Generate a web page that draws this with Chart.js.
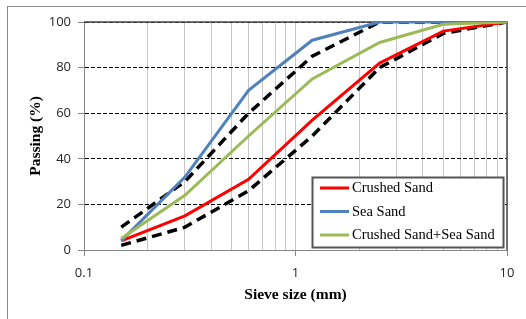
<!DOCTYPE html>
<html><head><meta charset="utf-8">
<script src="https://cdn.jsdelivr.net/npm/chart.js@4/dist/chart.umd.min.js"></script>
<style>
html,body{margin:0;padding:0;background:#fff;}
#wrap{position:relative;width:526px;height:319px;overflow:hidden;}
#frame{position:absolute;left:7px;top:6px;width:700px;height:500px;border-left:1px solid #8c8c8c;border-top:1px solid #8c8c8c;}
canvas{position:absolute;left:0;top:0;}
</style></head><body>
<div id="wrap"><div id="frame"></div><canvas id="c" width="526" height="319"></canvas></div>
<script>
const sieveSizes = [0.15, 0.3, 0.6, 1.2, 2.5, 5, 10];
const crushedSand = [4, 15, 31, 57, 82, 96, 100];
const seaSand = [4, 32, 70, 92, 100, 100, 100];
const blendSand = [5, 24, 50, 75, 91, 99, 100];
const upperLimit = [10, 30, 60, 85, 100, 100, 100];
const lowerLimit = [2, 10, 26, 50, 80, 95, 100];
const yTickValues = [0, 20, 40, 60, 80, 100];
const xMajorTicks = [0.1, 1, 10];
const seriesNames = ['Crushed Sand', 'Sea Sand', 'Crushed Sand+Sea Sand'];
const seriesColors = ['#ff0000', '#4f81bd', '#9bbb59'];

function pts(vals){ return sieveSizes.map((s,i)=>({x:s, y:vals[i]})); }
function isMajor(v){ return xMajorTicks.some(m=>Math.abs(m-v)<1e-9); }

const seriesValues = [crushedSand, seaSand, blendSand];
const drawOrder = [2, 1, 0];
const datasets = seriesValues.map((vals,i)=>({
  label: seriesNames[i], data: pts(vals), borderColor: seriesColors[i],
  borderWidth: 3, pointRadius: 0, tension: 0, order: drawOrder[i], inLegend: true
}));
[upperLimit, lowerLimit].forEach((vals,i)=>datasets.push({
  label: i===0 ? 'Upper limit' : 'Lower limit', data: pts(vals), borderColor: '#000',
  borderWidth: 3.5, borderDash: [10, 6], pointRadius: 0, tension: 0, order: 5, inLegend: false
}));

const framePlugin = {
  id: 'frame',
  beforeDatasetsDraw(chart){
    const {ctx, chartArea:a} = chart;
    ctx.save();
    ctx.strokeStyle = '#4a4a4a'; ctx.lineWidth = 1.5;
    ctx.beginPath();
    ctx.moveTo(a.left, a.top); ctx.lineTo(a.right, a.top); ctx.lineTo(a.right, a.bottom);
    ctx.stroke();
    ctx.restore();
  }
};
const legendPlugin = {
  id: 'boxLegend',
  afterDraw(chart){
    const ctx = chart.ctx;
    const bx = 312.5, by = 177.5, bw = 191, bh = 70;
    ctx.save();
    ctx.fillStyle = '#fff'; ctx.fillRect(bx, by, bw, bh);
    ctx.strokeStyle = '#555'; ctx.lineWidth = 2; ctx.strokeRect(bx, by, bw, bh);
    ctx.font = "14.5px 'Liberation Serif', serif";
    ctx.textBaseline = 'middle'; ctx.fillStyle = '#000';
    chart.data.datasets.filter(d=>d.inLegend).forEach((d,i)=>{
      const y = 188 + i*23.5;
      ctx.strokeStyle = d.borderColor; ctx.lineWidth = 3;
      ctx.beginPath(); ctx.moveTo(320, y); ctx.lineTo(349, y); ctx.stroke();
      ctx.fillText(d.label, 352, y + 0.5);
    });
    ctx.restore();
  }
};

new Chart(document.getElementById('c'), {
  type: 'line',
  data: { datasets },
  plugins: [framePlugin, legendPlugin],
  options: {
    responsive: false, devicePixelRatio: 1, animation: false,
    layout: { padding: { top: 22, right: 19, left: 0, bottom: 0 } },
    plugins: { legend: { display: false }, tooltip: { enabled: false } },
    scales: {
      x: {
        type: 'logarithmic', min: 0.1, max: 10,
        afterBuildTicks(scale){
          const t = [];
          for (const d of [0.1, 1]) for (let k=1;k<10;k++) t.push({value: +(d*k).toFixed(2)});
          t.push({value: 10});
          scale.ticks = t.map(o=>({value:o.value, major:isMajor(o.value)}));
        },
        afterFit(scale){ scale.height = 69; },
        ticks: {
          autoSkip: false, maxRotation: 0, padding: 9, color: '#262626',
          font: { family: "'Open Sans', sans-serif", size: 13 },
          callback: (v)=> isMajor(v) ? String(v) : ''
        },
        grid: {
          color: '#c6c6c6', lineWidth: 1, tickLength: 6,
          tickColor: (c)=> (c.tick && isMajor(c.tick.value)) ? '#868686' : 'rgba(0,0,0,0)'
        },
        border: { color: '#868686', width: 1 },
        title: { display: true, text: 'Sieve size (mm)', color: '#000',
          font: { family: "'Liberation Serif', serif", size: 15.5, weight: 'bold' },
          padding: { top: 0, bottom: 15 } }
      },
      y: {
        min: 0, max: 100,
        afterBuildTicks(scale){ scale.ticks = yTickValues.map(v=>({value:v})); },
        afterFit(scale){ scale.width = 84; },
        ticks: { padding: 7, color: '#262626', font: { family: "'Open Sans', sans-serif", size: 13 } },
        grid: {
          color: (c)=> (c.tick && c.tick.value===0) ? 'rgba(0,0,0,0)' : '#000',
          lineWidth: 1, tickLength: 6, tickColor: '#868686'
        },
        border: { color: '#868686', width: 1, dash: [4, 2] },
        title: { display: true, text: 'Passing (%)', color: '#000',
          font: { family: "'Liberation Serif', serif", size: 15.5, weight: 'bold' },
          padding: { top: 27, bottom: 0 } }
      }
    }
  }
});
</script>
</body></html>
